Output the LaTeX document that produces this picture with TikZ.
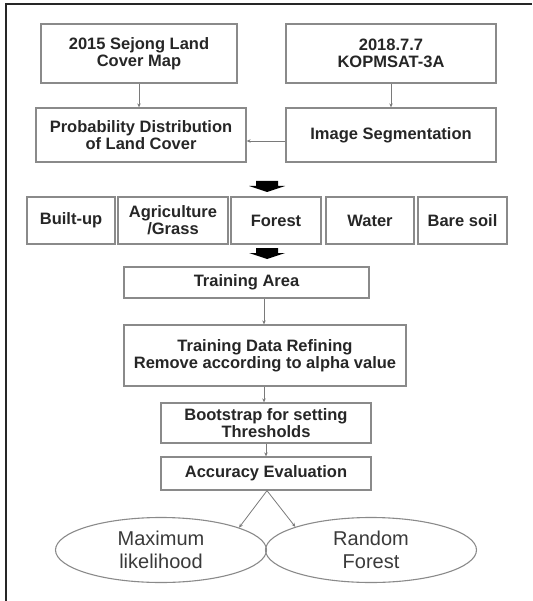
\documentclass[tikz,border=0pt]{standalone}
\usepackage{fontspec}
\setmainfont{Liberation Sans}
\usetikzlibrary{arrows.meta,shapes.geometric}
\definecolor{boxline}{HTML}{8A8A8A}
\definecolor{txt}{HTML}{262626}
\definecolor{ltxt}{HTML}{3A3A3A}
\definecolor{arr}{HTML}{7A7A7A}
\begin{document}
\begin{tikzpicture}[x=1pt,y=-1pt,
  stepbox/.style={draw=boxline,line width=1.3pt,rectangle,inner sep=0pt,align=center,
    text=txt,font=\fontsize{16.5}{17}\selectfont\bfseries},
  oval/.style={draw=boxline,line width=1.1pt,ellipse,inner sep=0pt,align=center,
    text=ltxt,minimum width=211,minimum height=65,font=\fontsize{20}{23}\selectfont},
  conn/.style={draw=arr,line width=0.8pt,-{Stealth[length=4pt,width=3.5pt]}},
  bigarrow/.style={fill=black,draw=none}
]
\useasboundingbox (0,0) rectangle (532,601);
% outer frame
\coordinate (fr1) at (6,601);
\coordinate (fr2) at (6,4);
\coordinate (fr3) at (532,4);
\draw[line width=1.6pt,color=txt] (fr1) -- (fr2) -- (fr3);

\node[stepbox,minimum width=196,minimum height=59] (b1) at (139,53.5) {2015 Sejong Land\\Cover Map};
\node[stepbox,minimum width=210,minimum height=59] (b2) at (391,53.5) {2018.7.7\\KOPMSAT-3A};
\node[stepbox,minimum width=210,minimum height=54] (b3) at (141,135) {Probability Distribution\\of Land Cover};
\node[stepbox,minimum width=210,minimum height=54] (b4) at (391,135) {Image Segmentation};

\node[stepbox,minimum width=88,minimum height=47] (c1) at (71,220.5) {Built-up};
\node[stepbox,minimum width=110,minimum height=47] (c2) at (173,220.5) {Agriculture\\/Grass};
\node[stepbox,minimum width=90,minimum height=47] (c3) at (276,220.5) {Forest};
\node[stepbox,minimum width=88,minimum height=47] (c4) at (370,220.5) {Water};
\node[stepbox,minimum width=89,minimum height=47] (c5) at (462.5,220.5) {Bare soil};

\node[stepbox,minimum width=245,minimum height=31] (ta) at (246.5,282.5) {Training Area};
\node[stepbox,minimum width=282,minimum height=61] (tdr) at (265,355.5) {Training Data Refining\\Remove according to alpha value};
\node[stepbox,minimum width=210,minimum height=40] (bs) at (266,423) {Bootstrap for setting\\Thresholds};
\node[stepbox,minimum width=210,minimum height=33] (acc) at (266,473.5) {Accuracy Evaluation};

\node[oval] (e1) at (161,550) {Maximum\\likelihood};
\node[oval] (e2) at (371,550) {Random\\Forest};

% thin connectors
\draw[conn] (b1.south) -- (b1.south |- b3.north);
\draw[conn] (b2.south) -- (b2.south |- b4.north);
\draw[conn] ([yshift=-6]b4.west) -- ([yshift=-6]b4.west -| b3.east);
\draw[conn] ([xshift=17.5]ta.south) -- ([xshift=17.5]ta.south |- tdr.north);
\draw[conn] ([xshift=-1]tdr.south) -- ([xshift=-1]tdr.south |- bs.north);
\draw[conn] (bs.south) -- (bs.south |- acc.north);
\draw[conn] ([xshift=1]acc.south) -- (e1.16.5);
\draw[conn] ([xshift=1]acc.south) -- (e2.163.5);

% thick black arrows
\coordinate (ba1) at (267,181);
\coordinate (ba2) at (267,248);
\foreach \c in {ba1,ba2}{
  \fill[bigarrow] ([xshift=-11]\c) -- ([xshift=11]\c) -- ([xshift=11,yshift=-5]\c)
    -- ([xshift=18,yshift=-5]\c) -- ([yshift=-11]\c) -- ([xshift=-18,yshift=-5]\c)
    -- ([xshift=-11,yshift=-5]\c) -- cycle;
}
\end{tikzpicture}
\end{document}
